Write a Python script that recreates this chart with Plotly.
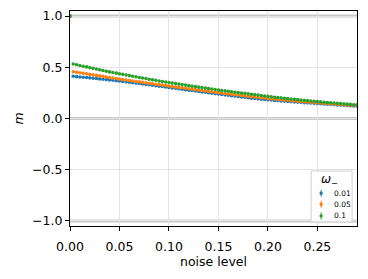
import plotly.graph_objects as go

noise = [0, 0.0033, 0.0067, 0.01, 0.0133, 0.0167, 0.02, 0.0233, 0.0267, 0.03,
         0.0333, 0.0367, 0.04, 0.0433, 0.0467, 0.05, 0.0533, 0.0567, 0.06, 0.0633,
         0.0667, 0.07, 0.0733, 0.0767, 0.08, 0.0833, 0.0867, 0.09, 0.0933, 0.0967,
         0.1, 0.1033, 0.1067, 0.11, 0.1133, 0.1167, 0.12, 0.1233, 0.1267, 0.13,
         0.1333, 0.1367, 0.14, 0.1433, 0.1467, 0.15, 0.1533, 0.1567, 0.16, 0.1633,
         0.1667, 0.17, 0.1733, 0.1767, 0.18, 0.1833, 0.1867, 0.19, 0.1933, 0.1967,
         0.2, 0.2033, 0.2067, 0.21, 0.2133, 0.2167, 0.22, 0.2233, 0.2267, 0.23,
         0.2333, 0.2367, 0.24, 0.2433, 0.2467, 0.25, 0.2533, 0.2567, 0.26, 0.2633,
         0.2667, 0.27, 0.2733, 0.2767, 0.28, 0.2833, 0.2867, 0.29]

m_001 = [1.0, 0.412, 0.409, 0.406, 0.403, 0.400, 0.397, 0.393, 0.390, 0.387,
         0.384, 0.380, 0.377, 0.373, 0.369, 0.366, 0.362, 0.358, 0.354, 0.350,
         0.346, 0.342, 0.338, 0.333, 0.329, 0.325, 0.321, 0.316, 0.312, 0.308,
         0.303, 0.299, 0.295, 0.290, 0.286, 0.282, 0.277, 0.273, 0.269, 0.264,
         0.260, 0.256, 0.251, 0.247, 0.243, 0.239, 0.235, 0.231, 0.227, 0.223,
         0.219, 0.215, 0.211, 0.207, 0.203, 0.199, 0.196, 0.192, 0.189, 0.186,
         0.183, 0.180, 0.177, 0.175, 0.172, 0.170, 0.167, 0.165, 0.162, 0.160,
         0.158, 0.155, 0.153, 0.151, 0.149, 0.147, 0.144, 0.142, 0.140, 0.138,
         0.136, 0.133, 0.131, 0.129, 0.127, 0.125, 0.123, 0.121]

m_005 = [1.0, 0.457, 0.452, 0.447, 0.442, 0.437, 0.431, 0.426, 0.421, 0.416,
         0.411, 0.406, 0.400, 0.395, 0.390, 0.385, 0.380, 0.376, 0.371, 0.367,
         0.362, 0.358, 0.353, 0.349, 0.344, 0.340, 0.335, 0.331, 0.326, 0.322,
         0.317, 0.313, 0.308, 0.304, 0.300, 0.295, 0.291, 0.287, 0.282, 0.278,
         0.274, 0.270, 0.265, 0.261, 0.257, 0.253, 0.249, 0.245, 0.241, 0.237,
         0.233, 0.229, 0.225, 0.222, 0.218, 0.214, 0.210, 0.207, 0.203, 0.200,
         0.196, 0.193, 0.190, 0.187, 0.184, 0.181, 0.178, 0.175, 0.172, 0.169,
         0.167, 0.164, 0.161, 0.159, 0.156, 0.154, 0.151, 0.149, 0.146, 0.144,
         0.142, 0.139, 0.137, 0.135, 0.133, 0.131, 0.129, 0.127]

m_01 = [1.0, 0.532, 0.525, 0.518, 0.511, 0.504, 0.497, 0.490, 0.483, 0.476,
        0.469, 0.462, 0.455, 0.449, 0.443, 0.437, 0.431, 0.425, 0.419, 0.413,
        0.407, 0.401, 0.395, 0.390, 0.384, 0.378, 0.373, 0.367, 0.362, 0.356,
        0.351, 0.346, 0.341, 0.336, 0.331, 0.326, 0.321, 0.316, 0.311, 0.306,
        0.302, 0.297, 0.292, 0.288, 0.283, 0.279, 0.274, 0.270, 0.266, 0.261,
        0.257, 0.253, 0.249, 0.245, 0.241, 0.237, 0.233, 0.229, 0.225, 0.220,
        0.216, 0.212, 0.208, 0.205, 0.201, 0.198, 0.194, 0.191, 0.187, 0.184,
        0.181, 0.178, 0.175, 0.171, 0.168, 0.165, 0.162, 0.159, 0.157, 0.154,
        0.151, 0.148, 0.146, 0.143, 0.140, 0.138, 0.135, 0.133]

series_labels = ["0.01", "0.05", "0.1"]
series_values = [m_001, m_005, m_01]
colors = ["#1f77b4", "#ff7f0e", "#2ca02c"]
ref_levels = [-1.0, 0.0, 1.0]
y_ticks = [-1.0, -0.5, 0.0, 0.5, 1.0]
y_ticktext = ["\u22121.0", "\u22120.5", "0.0", "0.5", "1.0"]
x_ticks = [0.0, 0.05, 0.10, 0.15, 0.20, 0.25]
x_ticktext = ["0.00", "0.05", "0.10", "0.15", "0.20", "0.25"]

FONT = "DejaVu Sans"
fig = go.Figure()
for lab, vals, col in zip(series_labels, series_values, colors):
    fig.add_trace(go.Scatter(x=noise, y=vals, mode="markers", name=lab,
                             marker=dict(color=col, size=3.6, line=dict(width=0)),
                             showlegend=False))

shapes = []
for lv in ref_levels:
    shapes.append(dict(type="line", xref="paper", x0=0, x1=1, yref="y", y0=lv, y1=lv,
                       line=dict(color="#c8c8c8", width=3), layer="below"))

# manual legend (paper coordinates)
shapes.append(dict(type="rect", xref="paper", yref="paper", x0=0.840, x1=0.983,
                   y0=0.019, y1=0.256, line=dict(color="#d0d0d0", width=1),
                   fillcolor="rgba(255,255,255,0.85)", layer="above"))
annotations = [dict(text="<i>ω</i><sub>−</sub>", xref="paper", yref="paper", x=0.905, y=0.212,
                    showarrow=False, xanchor="center", yanchor="middle",
                    font=dict(family=FONT, size=12, color="black"))]
leg_y = [0.152, 0.101, 0.047]
for lab, col, yy in zip(series_labels, colors, leg_y):
    shapes.append(dict(type="line", xref="paper", yref="paper", xsizemode="pixel", ysizemode="pixel",
                       xanchor=0.875, yanchor=yy, x0=0, x1=0, y0=-3.5, y1=3.5,
                       line=dict(color=col, width=1), layer="above"))
    shapes.append(dict(type="circle", xref="paper", yref="paper", xsizemode="pixel", ysizemode="pixel",
                       xanchor=0.875, yanchor=yy, x0=-1.7, x1=1.7, y0=-1.7, y1=1.7,
                       line=dict(width=0), fillcolor=col, layer="above"))
    annotations.append(dict(text=lab, xref="paper", yref="paper", x=0.912, y=yy,
                            showarrow=False, xanchor="left", yanchor="middle",
                            font=dict(family=FONT, size=7.5, color="black")))

axis_common = dict(showline=True, linecolor="black", linewidth=1.2, mirror=True,
                   ticks="outside", ticklen=4, tickcolor="black", tickwidth=1,
                   showgrid=True, gridcolor="#e4e4e4", gridwidth=1, zeroline=False,
                   automargin=False,
                   tickfont=dict(family=FONT, size=12.5, color="black"))

fig.update_layout(
    width=368, height=279,
    margin=dict(l=70, r=11, t=11, b=53, autoexpand=False),
    plot_bgcolor="white", paper_bgcolor="white",
    font=dict(family=FONT, size=12.5, color="black"),
    shapes=shapes, annotations=annotations,
    xaxis=dict(range=[0, 0.29], tickvals=x_ticks, ticktext=x_ticktext,
               ticklabelstandoff=5,
               title=dict(text="noise level", standoff=4, font=dict(family=FONT, size=12.5)),
               **axis_common),
    yaxis=dict(range=[-1.05, 1.05], tickvals=y_ticks, ticktext=y_ticktext,
               title=dict(text="<i>m</i>", standoff=5, font=dict(family=FONT, size=12.5)),
               **axis_common),
)
fig.write_html("out.html", config={"displayModeBar": False},
               post_script="document.body.style.margin='0';")
